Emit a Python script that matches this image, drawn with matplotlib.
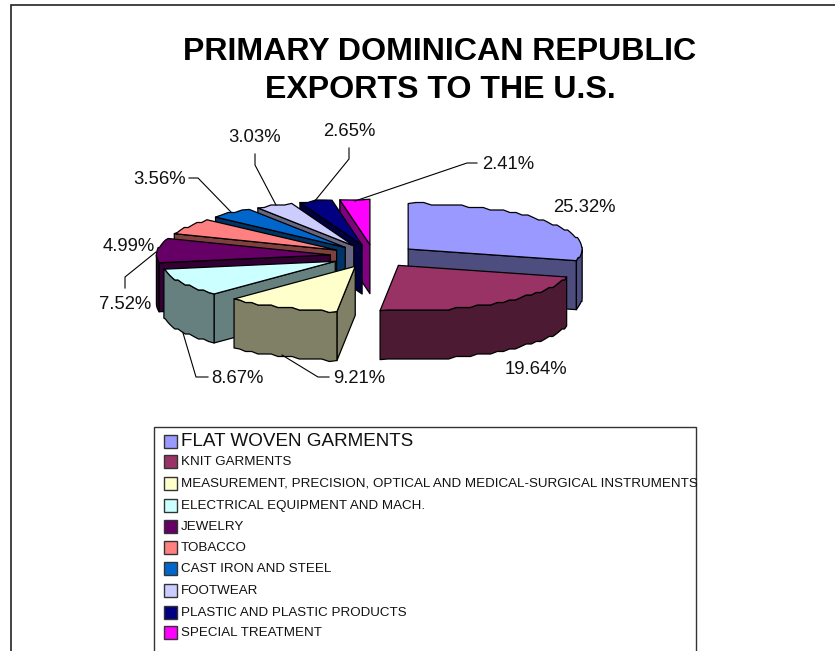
# Exploded 3D pie of the Dominican Republic exports, projected by hand
import numpy as np
import matplotlib
matplotlib.use('Agg')
import matplotlib.pyplot as plt
from matplotlib.patches import Polygon, Rectangle

plt.rcParams['font.family'] = ['Liberation Sans', 'DejaVu Sans']

title_lines = ["PRIMARY DOMINICAN REPUBLIC", "EXPORTS TO THE U.S."]
categories = ["FLAT WOVEN GARMENTS", "KNIT GARMENTS",
              "MEASUREMENT, PRECISION, OPTICAL AND MEDICAL-SURGICAL INSTRUMENTS",
              "ELECTRICAL EQUIPMENT AND MACH.", "JEWELRY", "TOBACCO",
              "CAST IRON AND STEEL", "FOOTWEAR", "PLASTIC AND PLASTIC PRODUCTS",
              "SPECIAL TREATMENT"]
shares = [25.32, 19.64, 9.21, 8.67, 7.52, 4.99, 3.56, 3.03, 2.65, 2.41]
colors = ['#9999FF', '#993366', '#FFFFCC', '#CCFFFF', '#660066',
          '#FF8080', '#0066CC', '#CCCCFF', '#000080', '#FF00FF']

# Layout in pixels of the 835x651 canvas
CX, CY = 373.7, 256.0
RX, RY = 174.0, 45.5
THICK = 49.0
EXPLODE = 0.25
label_pos = [(553, 206), (505, 368), (333, 377), (211, 377), (99, 303),
             (103, 245), (133, 178), (228, 136), (323, 130), (482, 163)]
leaders = [None, None,
           [(282, 355), (318, 377), (329, 377)],
           [(183, 333), (196, 377), (208, 377)],
           [(156, 252), (125, 277), (125, 288)],
           None,
           [(189, 178), (198, 178), (231, 212)],
           [(255, 154), (255, 165), (276, 205)],
           [(349, 148), (349, 159), (314, 202)],
           [(477, 163), (467, 163), (355, 201)]]
legend_y = [441, 461, 483, 505, 526, 547, 568, 590, 612, 632.5]


def project(theta, ox, oy):
    # theta in degrees, clockwise from 12 o'clock
    t = np.radians(theta)
    return ox + RX * np.sin(t), oy - RY * np.cos(t)


def rim(a, b, ox, oy):
    # The original renderer has a rough, stepped rim, keep its look
    n = max(2, int(abs(b - a) / 2.5) + 1)
    th = np.linspace(a, b, n)
    x, y = project(th, ox, oy)
    y = np.round(y / 2.5) * 2.5
    x[0], y[0] = project(a, ox, oy)
    x[-1], y[-1] = project(b, ox, oy)
    return np.column_stack([x, y])


def dark(hex_color):
    return tuple(0.5 * c for c in matplotlib.colors.to_rgb(hex_color))


def drawSlice(ax, a, b, color):
    mid = np.radians((a + b) / 2.0)
    ox = CX + EXPLODE * RX * np.sin(mid)
    oy = CY - EXPLODE * RY * np.cos(mid)
    side = dark(color)
    style = dict(edgecolor='black', linewidth=0.9, joinstyle='round')

    # Cut faces that look towards the viewer
    if a > 180:
        x, y = project(a, ox, oy)
        ax.add_patch(Polygon([(ox, oy), (x, y), (x, y + THICK), (ox, oy + THICK)],
                             facecolor=side, **style))
    if b < 180:
        x, y = project(b, ox, oy)
        ax.add_patch(Polygon([(ox, oy), (x, y), (x, y + THICK), (ox, oy + THICK)],
                             facecolor=side, **style))
    # Outer wall, only the lower half of the ellipse shows
    lo, hi = max(a, 90), min(b, 270)
    if hi > lo:
        top = rim(lo, hi, ox, oy)
        bottom = top[::-1] + [0, THICK]
        ax.add_patch(Polygon(np.vstack([top, bottom]), facecolor=side, **style))
    # Top surface
    ax.add_patch(Polygon(np.vstack([[(ox, oy)], rim(a, b, ox, oy)]),
                         facecolor=color, **style))


fig = plt.figure(figsize=(8.35, 6.51), dpi=100)
ax = fig.add_axes([0, 0, 1, 1])
ax.set_xlim(0, 835)
ax.set_ylim(651, 0)
ax.axis('off')

# Outer chart border runs off the canvas on the right and bottom
ax.plot([10.5, 10.5, 835], [651, 5, 5], color='#222222', lw=1.2, solid_joinstyle='miter')

ax.text(440, 52, title_lines[0], ha='center', va='center', fontsize=23.1, fontweight='bold')
ax.text(440, 90, title_lines[1], ha='center', va='center', fontsize=23.1, fontweight='bold')

# Slice angles come from the shares, the shown values only add up to 87
total = sum(shares)
edges = np.concatenate([[0], np.cumsum(shares)]) * 360.0 / total
mids = (edges[:-1] + edges[1:]) / 2.0

# Back to front
order = np.argsort(-np.cos(np.radians(mids)))
for i in order:
    drawSlice(ax, edges[i], edges[i + 1], colors[i])

for i in range(len(shares)):
    ax.text(label_pos[i][0], label_pos[i][1] + 1.5, "%.2f%%" % shares[i],
            ha='left', va='center', fontsize=13.3, color='#111111')
    if leaders[i] is not None:
        ax.plot([p[0] for p in leaders[i]], [p[1] for p in leaders[i]], color='black', lw=0.8)

# Legend box, cut off by the bottom of the canvas
ax.plot([153.5, 153.5, 695.5, 695.5], [651, 427, 427, 651], color='#333333', lw=1.0,
        solid_joinstyle='miter')
for i in range(len(categories)):
    ax.add_patch(Rectangle((163.5, legend_y[i] - 6.5), 13, 13, facecolor=colors[i],
                           edgecolor='#333333', linewidth=1.0))
    size = 13.6 if i == 0 else 9.65
    ax.text(181, legend_y[i] + 1, categories[i], ha='left', va='center', fontsize=size,
            color='#111111')

fig.savefig('out.png', dpi=100)
